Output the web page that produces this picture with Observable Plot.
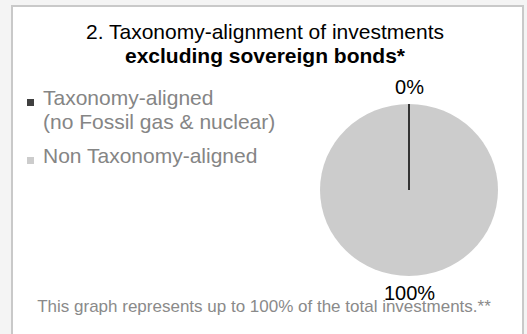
<!DOCTYPE html>
<html>
<head>
<meta charset="utf-8">
<script src="https://cdn.jsdelivr.net/npm/d3@7"></script>
<script src="https://cdn.jsdelivr.net/npm/@observablehq/plot@0.6"></script>
<style>
  html, body { margin: 0; padding: 0; }
  body { width: 527px; height: 334px; overflow: hidden; background: #f4f4f4; position: relative;
         font-family: "Liberation Sans", Arial, sans-serif; }
  #box { position: absolute; left: 11px; top: 5px; width: 513px; height: 400px; box-sizing: border-box;
         background: #fff; border: 2px solid #c9c9c9; }
  .title { position: absolute; left: 0; width: 530px; top: 20px; text-align: center; font-size: 21px;
           line-height: 24px; color: #000; }
  .title b { font-weight: bold; }
  .leg { position: absolute; left: 43px; font-size: 21px; line-height: 24px; color: #858585; white-space: pre-line; }
  .sw { position: absolute; width: 7px; height: 7px; }
  .foot { position: absolute; left: 0; width: 528px; top: 297px; text-align: center; font-size: 17px;
          line-height: 19px; color: #8a8a8a; white-space: nowrap; }
  #pie { position: absolute; left: 309px; top: 75px; }
</style>
</head>
<body>
<div id="box"></div>
<div class="title">2. Taxonomy-alignment of investments<br><b>excluding sovereign bonds*</b></div>
<div id="legend"></div>
<div class="foot">This graph represents up to 100% of the total investments.**</div>
<div id="pie"></div>
<script>
const categories = ["Taxonomy-aligned\n(no Fossil gas & nuclear)", "Non Taxonomy-aligned"];
const values = [0, 100];
const colors = ["#404040", "#cccccc"];
const labels = ["0%", "100%"];

// legend
const legendTops = [86, 144];
const legend = document.getElementById("legend");
categories.forEach((c, i) => {
  const sw = document.createElement("div");
  sw.className = "sw";
  sw.style.left = "27px";
  sw.style.top = (legendTops[i] + 13) + "px";
  sw.style.background = colors[i];
  legend.appendChild(sw);
  const t = document.createElement("div");
  t.className = "leg";
  t.style.top = legendTops[i] + "px";
  t.textContent = c;
  legend.appendChild(t);
});

const arcs = d3.pie().sort(null).value(d => d)(values);
const data = arcs.map((a, i) => ({
  category: categories[i],
  value: values[i],
  label: labels[i],
  color: colors[i],
  start: a.startAngle,
  end: a.endAngle,
  mid: (a.startAngle + a.endAngle) / 2
}));
const labelR = 1.2;

function pieMark(data) {
  return (index, scales) => {
    const cx = scales.x(0), cy = scales.y(0);
    const rx = scales.x(1) - scales.x(0);
    const ry = scales.y(0) - scales.y(1);
    const g = d3.create("svg:g").attr("transform", `translate(${cx},${cy}) scale(${rx},${ry})`);
    const arc = d3.arc().innerRadius(0).outerRadius(1);
    const order = data.map((d, i) => i).sort((a, b) => data[b].value - data[a].value);
    for (const i of order) {
      const d = data[i];
      g.append("path")
        .attr("d", arc({startAngle: d.start, endAngle: d.end}))
        .attr("fill", d.color)
        .attr("stroke", d.value === 0 ? "#000" : "none")
        .attr("stroke-width", 1)
        .attr("vector-effect", "non-scaling-stroke");
    }
    return g.node();
  };
}

const chart = Plot.plot({
  width: 200,
  height: 230,
  margin: 0,
  x: {domain: [-1, 1], range: [100 - 89, 100 + 89], axis: null},
  y: {domain: [-1, 1], range: [115 + 86, 115 - 86], axis: null},
  marks: [
    pieMark(data),
    Plot.text(data, {
      x: d => labelR * Math.sin(d.mid),
      y: d => labelR * Math.cos(d.mid),
      text: "label",
      fontSize: 20,
      fill: "#000",
      fontFamily: "Liberation Sans, Arial, sans-serif"
    })
  ]
});
document.getElementById("pie").appendChild(chart);
</script>
</body>
</html>
